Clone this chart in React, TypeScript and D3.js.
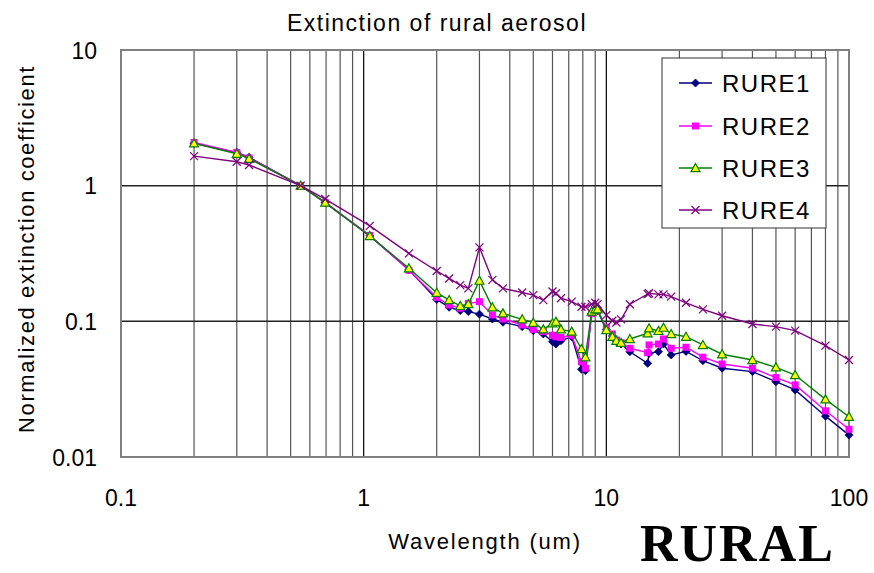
import React from "react";
import * as d3 from "d3";

const wavelengths = [0.2, 0.3, 0.3371, 0.55, 0.6943, 1.06, 1.536, 2.0, 2.25, 2.5, 2.7, 3.0, 3.392, 3.75, 4.5, 5.0, 5.5, 6.0, 6.2, 6.5, 7.2, 7.9, 8.2, 8.7, 9.0, 9.2, 10.0, 10.591, 11.0, 11.5, 12.5, 14.8, 15.0, 16.4, 17.2, 18.5, 21.3, 25.0, 30.0, 40.0, 50.0, 60.0, 80.0, 100.0];

const rure1 = [2.05, 1.76, 1.62, 1.0, 0.75, 0.426, 0.240, 0.145, 0.127, 0.120, 0.118, 0.113, 0.104, 0.0985, 0.0914, 0.0854, 0.0807, 0.0708, 0.068, 0.072, 0.077, 0.0443, 0.0433, 0.114, 0.12, 0.12, 0.087, 0.078, 0.0708, 0.068, 0.0597, 0.049, 0.058, 0.0597, 0.068, 0.0565, 0.060, 0.0513, 0.0451, 0.0426, 0.0359, 0.0312, 0.020, 0.0145];
const rure2 = [2.08, 1.76, 1.60, 1.0, 0.75, 0.43, 0.238, 0.150, 0.132, 0.125, 0.135, 0.1396, 0.1114, 0.104, 0.094, 0.0873, 0.084, 0.079, 0.077, 0.076, 0.079, 0.0504, 0.0451, 0.114, 0.12, 0.12, 0.0904, 0.0807, 0.0729, 0.0696, 0.0633, 0.0587, 0.067, 0.068, 0.0741, 0.0633, 0.0644, 0.0544, 0.0485, 0.0451, 0.0385, 0.034, 0.0219, 0.016];
const rure3 = [2.05, 1.72, 1.58, 1.0, 0.75, 0.426, 0.246, 0.1626, 0.1435, 0.130, 0.134, 0.1995, 0.127, 0.1145, 0.1035, 0.0977, 0.0873, 0.0967, 0.0995, 0.0873, 0.084, 0.0625, 0.0544, 0.118, 0.1227, 0.1227, 0.0863, 0.077, 0.072, 0.0696, 0.0741, 0.0817, 0.0889, 0.0850, 0.0898, 0.0807, 0.077, 0.067, 0.0572, 0.0519, 0.0458, 0.0402, 0.0266, 0.0198];
const rure4 = [1.65, 1.50, 1.42, 1.0, 0.797, 0.505, 0.317, 0.235, 0.207, 0.185, 0.175, 0.351, 0.202, 0.175, 0.163, 0.156, 0.1435, 0.166, 0.161, 0.148, 0.1396, 0.128, 0.128, 0.134, 0.137, 0.134, 0.111, 0.101, 0.098, 0.1035, 0.1336, 0.159, 0.161, 0.158, 0.158, 0.152, 0.137, 0.1226, 0.110, 0.0955, 0.0914, 0.0854, 0.0662, 0.0519];

const seriesNames = ["RURE1", "RURE2", "RURE3", "RURE4"];
const xTicks = [0.1, 1, 10, 100];
const xTickLabels = ["0.1", "1", "10", "100"];
const yTicks = [10, 1, 0.1, 0.01];
const yTickLabels = ["10", "1", "0.1", "0.01"];

const W = 874, H = 573;
const L = 121, R = 849, T = 50, B = 457;

const styles = [
  { stroke: "#000080", marker: "diamond", fill: "#000080", mstroke: "#000080" },
  { stroke: "#FF00FF", marker: "square", fill: "#FF00FF", mstroke: "#FF00FF" },
  { stroke: "#008000", marker: "triangle", fill: "#FFFF00", mstroke: "#008000" },
  { stroke: "#800080", marker: "x", fill: "none", mstroke: "#800080" },
];

function Marker({ type, x, y, s }: { type: string; x: number; y: number; s: any }) {
  if (type === "diamond") {
    const r = 4;
    return <path d={`M${x},${y - r}L${x + r},${y}L${x},${y + r}L${x - r},${y}Z`} fill={s.fill} stroke={s.mstroke} strokeWidth={0.8} />;
  }
  if (type === "square") {
    const r = 3.5;
    return <rect x={x - r} y={y - r} width={2 * r} height={2 * r} fill={s.fill} />;
  }
  if (type === "triangle") {
    const r = 4.5;
    return <path d={`M${x},${y - r}L${x + r},${y + r * 0.8}L${x - r},${y + r * 0.8}Z`} fill={s.fill} stroke={s.mstroke} strokeWidth={1.2} />;
  }
  const r = 4;
  return <path d={`M${x - r},${y - r}L${x + r},${y + r}M${x - r},${y + r}L${x + r},${y - r}`} stroke={s.mstroke} strokeWidth={1.2} fill="none" />;
}

export default function App() {
  const x = d3.scaleLog().domain([0.1, 100]).range([L, R]);
  const y = d3.scaleLog().domain([0.01, 10]).range([B, T]);
  const data = [rure1, rure2, rure3, rure4];

  const minor: number[] = [];
  for (const dec of [0.1, 1, 10]) for (let k = 2; k <= 9; k++) minor.push(dec * k);

  const line = d3.line<number>().x((_, i) => x(wavelengths[i])).y((v) => y(v));

  const font = "'Liberation Sans', Arial, sans-serif";
  const legendRows = [83, 126, 168, 210];

  return (
    <svg width={W} height={H} style={{ position: "absolute", left: 0, top: 0 }} xmlns="http://www.w3.org/2000/svg">
      <rect x={0} y={0} width={W} height={H} fill="#fff" />
      {minor.map((v) => (
        <line key={"m" + v} x1={x(v)} x2={x(v)} y1={T} y2={B} stroke="#555" strokeWidth={1.2} />
      ))}
      {[1, 10].map((v) => (
        <line key={"M" + v} x1={x(v)} x2={x(v)} y1={T} y2={B} stroke="#000" strokeWidth={1.2} />
      ))}
      {[1, 0.1].map((v) => (
        <line key={"h" + v} x1={L} x2={R} y1={y(v)} y2={y(v)} stroke="#222" strokeWidth={1.5} />
      ))}
      <rect x={L} y={T} width={R - L} height={B - T} fill="none" stroke="#808080" strokeWidth={2} />

      {data.map((d, si) => (
        <g key={si}>
          <path d={line(d) || ""} fill="none" stroke={styles[si].stroke} strokeWidth={1.4} />
          {d.map((v, i) => (
            <Marker key={i} type={styles[si].marker} x={x(wavelengths[i])} y={y(v)} s={styles[si]} />
          ))}
        </g>
      ))}

      <rect x={662} y={58} width={164} height={170} fill="#fff" stroke="#333" strokeWidth={1} />
      {seriesNames.map((n, i) => (
        <g key={n}>
          <line x1={679} x2={712} y1={legendRows[i]} y2={legendRows[i]} stroke={styles[i].stroke} strokeWidth={1.4} />
          <Marker type={styles[i].marker} x={695.5} y={legendRows[i]} s={styles[i]} />
          <text x={722} y={legendRows[i] + 8.5} fontFamily={font} fontSize={24} letterSpacing={1.5} fill="#000">{n}</text>
        </g>
      ))}

      {yTicks.map((v, i) => (
        <text key={"yt" + v} x={97} y={y(v) + 8.5} textAnchor="end" fontFamily={font} fontSize={23} fill="#000">{yTickLabels[i]}</text>
      ))}
      {xTicks.map((v, i) => (
        <text key={"xt" + v} x={x(v)} y={506} textAnchor="middle" fontFamily={font} fontSize={23} fill="#000">{xTickLabels[i]}</text>
      ))}

      <text x={437} y={31} textAnchor="middle" fontFamily={font} fontSize={23} letterSpacing={1.5} fill="#000">Extinction of rural aerosol</text>
      <text x={485} y={549} textAnchor="middle" fontFamily={font} fontSize={22} letterSpacing={1.8} fill="#000">Wavelength (um)</text>
      <text transform="translate(34,249) rotate(-90)" textAnchor="middle" fontFamily={font} fontSize={22} letterSpacing={1.6} fill="#000">Normalized extinction coefficient</text>
      <text x={640} y={561} fontFamily="'Liberation Serif', 'Times New Roman', serif" fontWeight="bold" fontSize={52} letterSpacing={2} fill="#000">RURAL</text>
    </svg>
  );
}
